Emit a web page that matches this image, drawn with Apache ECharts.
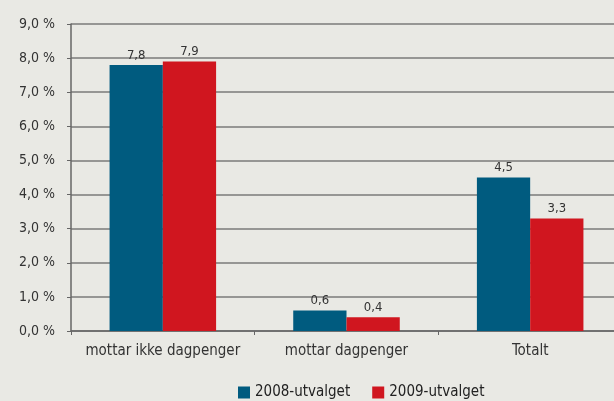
<!DOCTYPE html>
<html>
<head>
<meta charset="utf-8">
<script src="https://cdn.jsdelivr.net/npm/echarts@6/dist/echarts.min.js"></script>
<style>
  html, body { margin: 0; padding: 0; background: #e9e9e4; }
  #chart { width: 614px; height: 401px; }
</style>
</head>
<body>
<div id="chart"></div>
<script>
// kategorier og verdier (prosent)
const categories = ['mottar ikke dagpenger', 'mottar dagpenger', 'Totalt']
const seriesNames = ['2008-utvalget', '2009-utvalget']
const values2008 = [7.8, 0.6, 4.5]
const values2009 = [7.9, 0.4, 3.3]
const colors = ['#005b7f', '#d0161f']

const fontFamily = '"DejaVu Sans Condensed", "DejaVu Sans", sans-serif'
const fmt = v => v.toFixed(1).replace('.', ',')

const chart = echarts.init(document.getElementById('chart'))

const option = {
  backgroundColor: '#e9e9e4',
  animation: false,
  textStyle: { fontFamily },
  grid: {
    left: 71,
    width: 551,
    top: 24,
    height: 307,
    outerBoundsMode: 'none',
    containLabel: false
  },
  legend: {
    bottom: -4,
    left: 233,
    itemWidth: 12,
    itemHeight: 12,
    itemGap: 22,
    icon: 'rect',
    textStyle: { fontSize: 15, color: '#222', fontFamily },
    data: seriesNames
  },
  xAxis: {
    type: 'category',
    data: categories,
    axisLine: { lineStyle: { color: '#666', width: 1.5 } },
    axisTick: { show: true, length: 4, lineStyle: { color: '#666' } },
    axisLabel: { fontSize: 15, color: '#333', margin: 13, interval: 0, fontFamily }
  },
  yAxis: {
    type: 'value',
    min: 0,
    max: 9,
    interval: 1,
    axisLine: { show: true, lineStyle: { color: '#666', width: 1.5 } },
    axisTick: { show: true, length: 4, lineStyle: { color: '#666' } },
    splitLine: { lineStyle: { color: '#7a7a7a', width: 1.5 } },
    axisLabel: {
      fontSize: 14,
      color: '#333',
      margin: 16,
      fontFamily,
      formatter: v => fmt(v) + ' %'
    }
  },
  series: [
    {
      name: seriesNames[0],
      type: 'bar',
      data: values2008,
      barWidth: '29%',
      barGap: '0%',
      itemStyle: { color: colors[0] },
      label: {
        show: true,
        position: 'top',
        fontSize: 13,
        color: '#333',
        distance: 3,
        formatter: p => fmt(p.value)
      }
    },
    {
      name: seriesNames[1],
      type: 'bar',
      data: values2009,
      barWidth: '29%',
      itemStyle: { color: colors[1] },
      label: {
        show: true,
        position: 'top',
        fontSize: 13,
        color: '#333',
        distance: 3,
        formatter: p => fmt(p.value)
      }
    }
  ]
}

chart.setOption(option)
</script>
</body>
</html>
